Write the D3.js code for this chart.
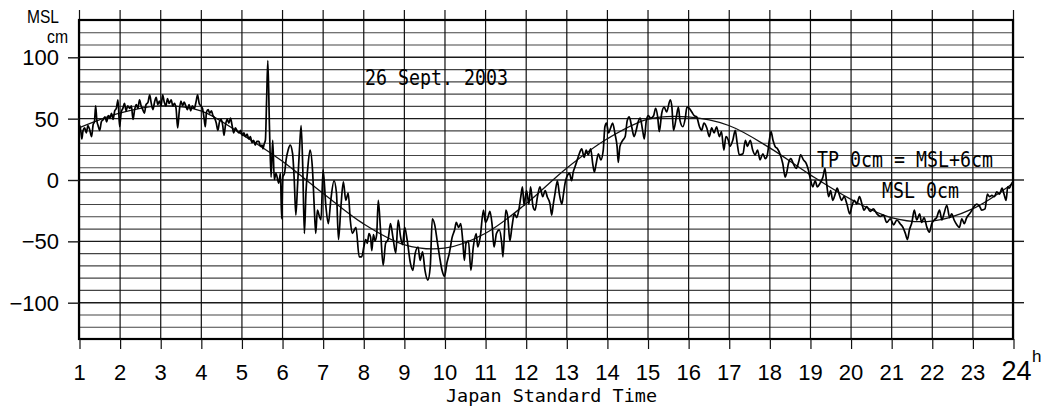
<!DOCTYPE html>
<html><head><meta charset="utf-8">
<script src="https://cdn.jsdelivr.net/npm/d3@7"></script>
<style>
html,body{margin:0;padding:0;background:#fff;}
svg{display:block;}
</style></head>
<body>
<svg id="chart" width="1055" height="408"></svg>
<script>
// Hourly axis (Japan Standard Time) and height ticks (cm above MSL)
const hours = d3.range(1, 25);
const heightTicks = [-100, -50, 0, 50, 100];
const gridLevels = d3.range(-120, 121, 10);
const tpLevel = 6; // TP 0cm = MSL + 6cm

// Predicted (astronomical) tide, cm, at each hour 1..24
const predicted = [42, 54, 60, 56, 37, 15, -11, -36, -53, -56, -44, -20,
                   9, 33, 49, 51, 44, 26, 4, -16, -31, -34, -24, -3];

// Observed sea level: [hour, cm]
const observed = [
 [1.00,40],[1.02,44],[1.05,38],[1.07,33],[1.10,40],[1.14,42],[1.18,38],[1.22,44],[1.26,41],[1.31,35],
 [1.35,45],[1.38,47],[1.41,60],[1.44,48],[1.47,44],[1.51,40],[1.55,47],[1.60,49],[1.64,51],[1.68,47],
 [1.72,52],[1.76,50],[1.80,54],[1.84,49],[1.88,56],[1.92,58],[1.96,65],[2.00,43],[2.04,55],[2.08,58],
 [2.12,62],[2.16,56],[2.20,60],[2.25,58],[2.29,60],[2.33,49],[2.37,57],[2.41,61],[2.45,58],[2.49,65],
 [2.53,60],[2.57,57],[2.61,54],[2.65,61],[2.70,63],[2.74,69],[2.78,62],[2.82,57],[2.86,63],[2.90,67],
 [2.94,61],[2.98,64],[3.02,60],[3.06,69],[3.10,63],[3.14,60],[3.18,66],[3.22,62],[3.27,65],[3.31,60],
 [3.35,62],[3.39,58],[3.43,42],[3.47,56],[3.51,64],[3.55,60],[3.59,63],[3.63,60],[3.67,57],[3.71,61],
 [3.75,56],[3.79,60],[3.84,58],[3.88,63],[3.92,69],[3.96,62],[4.00,60],[4.04,58],[4.08,50],[4.11,43],
 [4.14,55],[4.18,57],[4.22,54],[4.26,56],[4.30,52],[4.34,50],[4.38,46],[4.42,40],[4.46,47],[4.50,49],
 [4.54,44],[4.57,36],[4.61,45],[4.65,49],[4.69,46],[4.73,50],[4.77,44],[4.81,38],[4.85,42],[4.89,40],
 [4.94,38],[4.98,40],[5.02,36],[5.06,38],[5.10,35],[5.14,37],[5.18,33],[5.22,35],[5.26,30],[5.30,32],
 [5.34,28],[5.38,31],[5.43,31],[5.47,27],[5.51,28],[5.53,25],[5.56,29],[5.59,32],
 [5.62,65],[5.65,97],[5.69,43],[5.73,2],[5.77,32],[5.81,0],[5.85,5],[5.92,-3],[5.96,5],[5.99,-32],
 [6.02,2],[6.06,5],[6.10,16],[6.15,24],[6.20,28],[6.26,21],[6.30,0],[6.34,-29],[6.38,-6],[6.43,25],
 [6.47,44],[6.51,10],[6.55,-44],[6.59,-10],[6.63,8],[6.69,24],[6.75,8],[6.79,-20],[6.83,-44],[6.87,-25],
 [6.92,-30],[6.96,-33],[7.01,8],[7.08,-22],[7.14,-36],[7.20,-17],[7.28,-1],[7.34,-11],[7.39,-49],[7.45,-22],
 [7.51,-2],[7.57,-17],[7.63,-11],[7.68,-33],[7.73,-44],[7.82,-39],[7.90,-63],[7.96,-63],
 [8.02,-54],[8.06,-49],[8.10,-52],[8.14,-44],[8.18,-47],[8.21,-58],[8.25,-45],[8.29,-50],[8.33,-45],[8.37,-17],
 [8.43,-44],[8.49,-70],[8.55,-52],[8.61,-49],[8.67,-36],[8.73,-47],[8.80,-60],[8.86,-33],[8.92,-47],[8.97,-53],
 [9.02,-39],[9.08,-49],[9.16,-68],[9.22,-74],[9.28,-60],[9.35,-55],[9.40,-66],[9.46,-59],[9.52,-74],[9.59,-82],
 [9.65,-71],[9.70,-32],[9.76,-37],[9.82,-50],[9.88,-63],[9.94,-74],[10.00,-79],[10.06,-68],[10.12,-60],[10.19,-47],
 [10.25,-41],[10.29,-35],[10.35,-39],[10.40,-36],[10.45,-50],[10.49,-66],[10.53,-52],[10.59,-50],[10.65,-74],[10.71,-55],
 [10.78,-44],[10.82,-55],[10.88,-47],[10.96,-25],[11.01,-35],[11.07,-31],[11.12,-26],[11.17,-36],[11.22,-55],[11.28,-44],
 [11.35,-41],[11.41,-52],[11.44,-63],[11.51,-25],[11.56,-31],[11.61,-50],[11.66,-39],[11.72,-28],[11.78,-31],[11.83,-25],
 [11.88,-14],[11.92,-6],[11.96,-21],[12.02,-9],[12.08,-20],[12.12,-6],[12.18,-22],[12.23,-25],[12.29,-14],
 [12.35,-6],[12.42,-14],[12.48,-9],[12.53,-14],[12.60,-20],[12.64,-29],[12.68,-20],[12.72,-12],[12.78,-1],[12.83,-12],
 [12.89,-20],[12.93,-12],[12.97,-3],[13.01,2],[13.08,5],[13.13,-1],[13.17,6],[13.21,10],[13.27,16],[13.32,21],
 [13.38,25],[13.44,18],[13.49,24],[13.54,20],[13.60,25],[13.65,13],[13.69,6],[13.73,12],[13.79,21],[13.85,16],
 [13.91,24],[13.95,43],[13.99,46],[14.04,38],[14.09,42],[14.14,46],[14.20,37],[14.25,27],[14.28,14],[14.32,27],
 [14.39,32],[14.45,35],[14.50,48],[14.55,51],[14.61,43],[14.67,35],[14.72,40],[14.77,47],[14.82,50],[14.88,40],
 [14.92,33],[14.97,48],[15.02,52],[15.08,50],[15.15,52],[15.20,58],[15.25,51],[15.29,39],[15.35,54],[15.41,59],
 [15.47,55],[15.56,65],[15.60,59],[15.64,40],[15.71,51],[15.76,59],[15.80,48],[15.87,43],[15.93,50],[15.97,59],
 [16.03,58],[16.09,55],[16.15,52],[16.21,51],[16.28,43],[16.33,40],[16.39,46],[16.46,42],[16.52,35],[16.58,42],
 [16.64,38],[16.70,43],[16.77,35],[16.82,39],[16.88,24],[16.93,35],[16.99,32],[17.03,27],[17.10,32],[17.16,40],
 [17.21,29],[17.26,20],
 [17.35,21],[17.41,32],[17.46,27],[17.53,32],[17.59,24],[17.65,20],[17.71,24],[17.77,16],[17.84,21],[17.90,17],
 [17.95,20],[18.00,32],[18.04,39],[18.09,32],[18.14,27],[18.20,25],[18.26,21],[18.33,13],[18.39,2],[18.43,6],
 [18.47,13],[18.53,17],[18.59,13],[18.66,9],[18.72,14],[18.77,20],[18.84,16],[18.91,13],[18.96,8],[19.02,-1],
 [19.07,-6],[19.13,-1],[19.18,-6],[19.25,-3],[19.32,2],[19.37,9],[19.41,-3],[19.46,-14],[19.51,-9],[19.56,-17],
 [19.62,-12],[19.67,-7],[19.72,-12],[19.78,-17],[19.84,-14],[19.91,-20],[19.98,-28],[20.03,-22],[20.09,-17],[20.15,-20],
 [20.22,-14],[20.28,-20],[20.33,-25],[20.40,-22],[20.48,-26],[20.56,-24],[20.65,-28],[20.73,-30],[20.81,-29],[20.89,-35],
 [20.98,-32],[21.06,-37],[21.14,-33],[21.22,-36],[21.29,-39],[21.35,-44],[21.40,-49],[21.45,-41],[21.51,-35],[21.57,-25],
 [21.63,-33],[21.70,-28],[21.75,-35],[21.81,-31],[21.88,-39],[21.94,-43],[22.00,-36],[22.06,-33],[22.12,-31],[22.19,-25],
 [22.25,-33],[22.30,-28],[22.37,-21],[22.44,-31],[22.49,-28],[22.55,-33],[22.62,-37],[22.68,-39],[22.74,-32],[22.80,-36],
 [22.86,-31],[22.93,-28],[22.99,-25],[23.04,-22],[23.11,-20],[23.18,-22],[23.23,-25],[23.31,-24],[23.37,-12],[23.42,-14],
 [23.48,-13],[23.54,-14],[23.60,-10],[23.67,-12],[23.73,-7],[23.78,-12],[23.83,-17],[23.87,-6],[23.91,-7],[23.97,-3],
 [24.00,-2]
];

const svg = d3.select("#chart");
const x = d3.scaleLinear().domain([1, 24]).range([79, 1013]);
const y = d3.scaleLinear().domain([-130, 130]).range([339, 20]);
const [x0, x1] = x.range();
const [yb, yt] = y.range();

const grid = svg.append("g");
// Horizontal grid every 10 cm
grid.selectAll("line.h").data(gridLevels).join("line")
  .attr("x1", x0).attr("x2", x1)
  .attr("y1", d => y(d) + 0.5).attr("y2", d => y(d) + 0.5)
  .attr("stroke", d => d % 50 === 0 ? "#1a1a1a" : "#444")
  .attr("stroke-width", d => d % 50 === 0 ? 1.4 : 1.1);
// TP datum line
grid.append("line")
  .attr("x1", x0).attr("x2", x1)
  .attr("y1", y(tpLevel) + 0.5).attr("y2", y(tpLevel) + 0.5)
  .attr("stroke", "#333").attr("stroke-width", 1.1);
// Major levels extend past the right edge
grid.selectAll("line.r").data(heightTicks).join("line")
  .attr("x1", x1).attr("x2", x1 + 11)
  .attr("y1", d => y(d) + 0.5).attr("y2", d => y(d) + 0.5)
  .attr("stroke", "#1a1a1a").attr("stroke-width", 1.4);
// Hour lines, with ticks above and below the frame
grid.selectAll("line.v").data(hours).join("line")
  .attr("x1", d => x(d) + 0.5).attr("x2", d => x(d) + 0.5)
  .attr("y1", yt - 10).attr("y2", yb)
  .attr("stroke", "#111").attr("stroke-width", 1.2);

// Frame
svg.append("rect")
  .attr("x", x0).attr("y", yt)
  .attr("width", x1 - x0).attr("height", yb - yt)
  .attr("fill", "none").attr("stroke", "#000").attr("stroke-width", 2.2);

// Axes
const xAxis = d3.axisBottom(x).tickValues(hours).tickSize(10).tickFormat(d3.format("d"));
const gx = svg.append("g").attr("transform", `translate(0,${yb})`).call(xAxis);
gx.select(".domain").remove();
gx.selectAll(".tick line").attr("stroke", "#111").attr("stroke-width", 1.2).attr("transform", "translate(0.5,0)");
gx.selectAll(".tick text")
  .attr("y", 40.5).attr("dy", 0)
  .attr("font-family", "'Liberation Sans', Arial, sans-serif")
  .attr("font-size", 22).attr("fill", "#000");
gx.selectAll(".tick text").filter(d => d === 24)
  .attr("font-size", 27).attr("x", 3);

const yAxis = d3.axisLeft(y).tickValues(heightTicks).tickSize(11).tickPadding(9);
const gy = svg.append("g").attr("transform", `translate(${x0},0)`).call(yAxis);
gy.select(".domain").remove();
gy.selectAll(".tick line").attr("stroke", "#1a1a1a").attr("stroke-width", 1.4).attr("transform", "translate(0,0.5)");
gy.selectAll(".tick text")
  .attr("font-family", "'Liberation Sans', Arial, sans-serif")
  .attr("font-size", 22).attr("fill", "#000").attr("dy", "0.36em");

// Unit labels
const sans = "'Liberation Sans', Arial, sans-serif";
const mono = "'DejaVu Sans Mono', monospace";
svg.append("text").attr("x", 27).attr("y", 23).text("MSL")
  .attr("font-family", sans).attr("font-size", 19)
  .attr("textLength", 32).attr("lengthAdjust", "spacingAndGlyphs");
svg.append("text").attr("x", 47).attr("y", 43).text("cm")
  .attr("font-family", sans).attr("font-size", 18)
  .attr("textLength", 21).attr("lengthAdjust", "spacingAndGlyphs");
svg.append("text").attr("x", 1032).attr("y", 362).text("h")
  .attr("font-family", sans).attr("font-size", 17);

// Annotations
function note(t, tx, ty, len, size) {
  svg.append("text").attr("x", tx).attr("y", ty).text(t)
    .attr("font-family", mono).attr("font-size", size)
    .attr("textLength", len).attr("lengthAdjust", "spacingAndGlyphs")
    .style("white-space", "pre").attr("fill", "#000");
}
note("26 Sept. 2003", 365, 85, 143, 21.5);
note("TP 0cm = MSL+6cm", 817, 166.5, 176, 21.5);
note("MSL 0cm", 882, 198, 77, 21.5);
note("Japan Standard Time", 446, 402, 211, 18.5);

// Predicted tide
const tide = d3.line().x((d, i) => x(hours[i])).y(d => y(d)).curve(d3.curveCatmullRom);
svg.append("path").datum(predicted).attr("d", tide)
  .attr("fill", "none").attr("stroke", "#111").attr("stroke-width", 1.3);

// Observed level
const obs = d3.line().x(d => x(d[0])).y(d => y(d[1])).curve(d3.curveMonotoneX);
svg.append("path").datum(observed).attr("d", obs)
  .attr("fill", "none").attr("stroke", "#000").attr("stroke-width", 1.7)
  .attr("stroke-linejoin", "round");
</script>
</body></html>
